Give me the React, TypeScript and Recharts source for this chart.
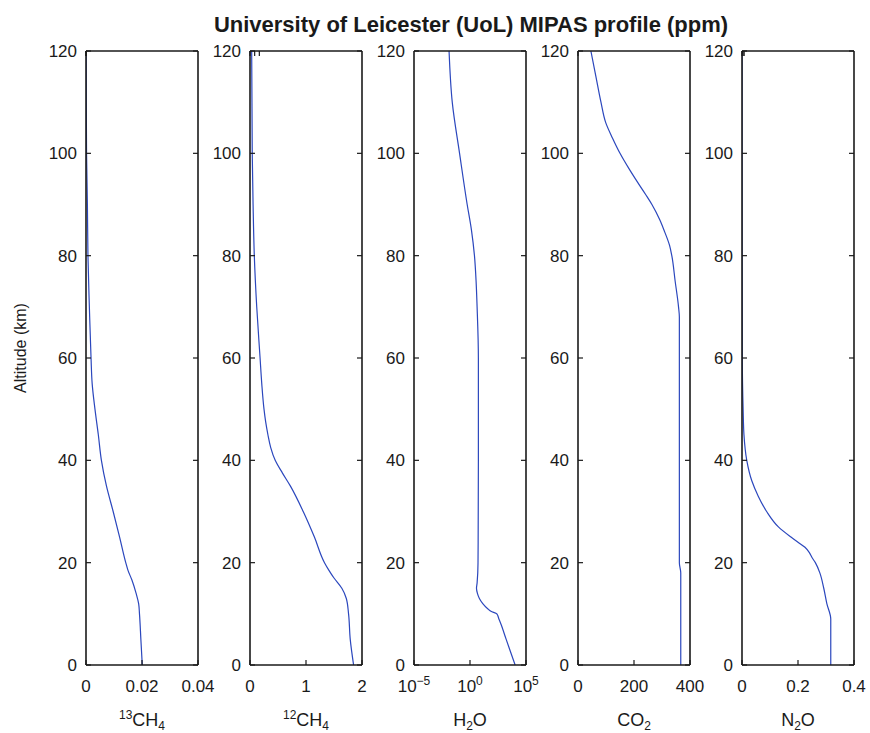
import React from 'react';
import { LineChart, Line, XAxis, YAxis } from 'recharts';

const ALT_TICKS = [0, 20, 40, 60, 80, 100, 120];

// 13CH4 (ppm)
const ch4c13Alt = [0, 5, 10, 12, 14, 16.6, 18.5, 20, 25, 30, 35, 40, 45, 50, 55, 60, 70, 80, 90, 100, 110, 120];
const ch4c13Ppm = [0.0201, 0.0196, 0.0191, 0.0188, 0.0179, 0.0164, 0.015, 0.0142, 0.012, 0.0097, 0.0073, 0.0055, 0.0044, 0.0032, 0.0022, 0.0018, 0.0012, 0.0007, 0.0005, 0.0002, 0.0001, 0.00005];

// 12CH4 (ppm)
const ch4c12Alt = [0, 5, 10, 13, 15, 17, 18.5, 20, 25, 30, 35, 37.5, 40, 42.5, 45, 47.5, 50, 55, 60, 70, 80, 90, 100, 110, 120];
const ch4c12Ppm = [1.85, 1.79, 1.76, 1.72, 1.64, 1.5, 1.41, 1.33, 1.15, 0.95, 0.72, 0.58, 0.45, 0.37, 0.32, 0.28, 0.25, 0.21, 0.18, 0.12, 0.077, 0.055, 0.04, 0.035, 0.03];

// H2O (ppm, log axis)
const h2oAlt = [0, 5, 8, 9, 10, 10.5, 11, 12, 13, 14, 15, 16, 20, 40, 60, 70, 75, 80, 85, 90, 100, 110, 120];
const h2oPpm = [1.07e4, 1.7e3, 575, 380, 250, 74, 38, 13.8, 6.9, 4.6, 3.8, 4.3, 5.2, 5.6, 5.6, 4.3, 3.5, 2.5, 1.35, 0.56, 0.117, 0.026, 0.0135];

// CO2 (ppm)
const co2Alt = [0, 18, 20, 68, 70, 75, 80, 82, 85, 87, 90, 92, 95, 97, 100, 103, 106, 110, 115, 120];
const co2Ppm = [367, 367, 362, 362, 359, 347, 335, 327, 307, 292, 264, 241, 205, 182, 150, 123, 99, 82, 64, 46];

// N2O (ppm)
const n2oAlt = [0, 9, 12, 15, 18, 20, 21, 22, 23, 24, 25, 27, 30, 33, 36, 40, 45, 50, 60, 80, 100, 120];
const n2oPpm = [0.317, 0.317, 0.303, 0.292, 0.278, 0.262, 0.25, 0.24, 0.225, 0.2, 0.175, 0.13, 0.088, 0.058, 0.035, 0.017, 0.007, 0.004, 0.001, 0.0003, 0.0001, 0.00005];

const FONT = '"Liberation Sans", Arial, Helvetica, sans-serif';
const INK = '#1a1a1a';
const BLUE = '#2b47bd';
const TICK_LEN = 5;

interface PanelDef {
  alt: number[];
  ppm: number[];
  domain: [number, number];
  ticks: number[];
  log?: boolean;
}

const panels: PanelDef[] = [
  { alt: ch4c13Alt, ppm: ch4c13Ppm, domain: [0, 0.04], ticks: [0, 0.02, 0.04] },
  { alt: ch4c12Alt, ppm: ch4c12Ppm, domain: [0, 2], ticks: [0, 1, 2] },
  { alt: h2oAlt, ppm: h2oPpm, domain: [1e-5, 1e5], ticks: [1e-5, 1, 1e5], log: true },
  { alt: co2Alt, ppm: co2Ppm, domain: [0, 400], ticks: [0, 200, 400] },
  { alt: n2oAlt, ppm: n2oPpm, domain: [0, 0.4], ticks: [0, 0.2, 0.4] },
];

const BOTTOM_MARGIN = 15;
const LEFT_MARGIN = 9;

// bottom tick: inward tick mark + label (plain or 10^n)
function BottomTick(props: any) {
  const { x, y, payload, log } = props;
  const axisY = y - BOTTOM_MARGIN;
  let label: React.ReactNode = String(payload.value);
  if (log) {
    const exp = Math.round(Math.log10(payload.value));
    label = (
      <>
        <tspan>10</tspan>
        <tspan dy={-7} fontSize={12}>{exp < 0 ? `\u2212${-exp}` : exp}</tspan>
      </>
    );
  }
  return (
    <g>
      <line x1={x} x2={x} y1={axisY} y2={axisY - TICK_LEN} stroke={INK} strokeWidth={1.2} />
      <text x={x} y={y} dy="0.71em" textAnchor="middle" fontSize={17} fill={INK} fontFamily={FONT}>
        {label}
      </text>
    </g>
  );
}

function TopTick(props: any) {
  const { x, y } = props;
  return <line x1={x} x2={x} y1={y} y2={y + TICK_LEN} stroke={INK} strokeWidth={1.2} />;
}

function LeftTick(props: any) {
  const { x, y, payload } = props;
  const axisX = x + LEFT_MARGIN;
  return (
    <g>
      <line x1={axisX} x2={axisX + TICK_LEN} y1={y} y2={y} stroke={INK} strokeWidth={1.2} />
      <text x={x} y={y} dy="0.355em" textAnchor="end" fontSize={17} fill={INK} fontFamily={FONT}>
        {payload.value}
      </text>
    </g>
  );
}

function RightTick(props: any) {
  const { x, y } = props;
  return <line x1={x} x2={x - TICK_LEN} y1={y} y2={y} stroke={INK} strokeWidth={1.2} />;
}

function Panel({ def, left }: { def: PanelDef; left: number }) {
  const data = def.alt.map((a, i) => ({ alt: a, ppm: def.ppm[i] }));
  const axisLine = { stroke: INK, strokeWidth: 1.6 };
  const scale = def.log ? 'log' : 'auto';
  return (
    <div style={{ position: 'absolute', left: left - 60, top: 0 }}>
      <LineChart width={200} height={733} data={data} margin={{ top: 50, right: 27, bottom: 38, left: 0 }}>
        <XAxis
          dataKey="ppm"
          type="number"
          scale={scale as any}
          domain={def.domain}
          ticks={def.ticks}
          interval={0}
          height={30}
          tickSize={0}
          tickMargin={BOTTOM_MARGIN}
          axisLine={axisLine}
          tickLine={false}
          tick={<BottomTick log={def.log} />}
          allowDataOverflow
        />
        <XAxis
          xAxisId="top"
          orientation="top"
          type="number"
          scale={scale as any}
          domain={def.domain}
          ticks={def.ticks}
          interval={0}
          height={1}
          tickSize={0}
          tickMargin={0}
          axisLine={axisLine}
          tickLine={false}
          tick={<TopTick />}
          allowDataOverflow
        />
        <YAxis
          type="number"
          domain={[0, 120]}
          ticks={ALT_TICKS}
          interval={0}
          width={60}
          tickSize={0}
          tickMargin={LEFT_MARGIN}
          axisLine={axisLine}
          tickLine={false}
          tick={<LeftTick />}
          allowDataOverflow
        />
        <YAxis
          yAxisId="right"
          orientation="right"
          type="number"
          domain={[0, 120]}
          ticks={ALT_TICKS}
          interval={0}
          width={1}
          tickSize={0}
          tickMargin={0}
          axisLine={axisLine}
          tickLine={false}
          tick={<RightTick />}
          allowDataOverflow
        />
        <Line
          type="monotoneY"
          dataKey="alt"
          stroke={BLUE}
          strokeWidth={1.2}
          dot={false}
          activeDot={false}
          isAnimationActive={false}
        />
      </LineChart>
    </div>
  );
}

export default function App() {
  const lefts = panels.map((_, i) => 86 + i * 164);
  const cx = lefts.map((l) => l + 56);
  const sub = { fontSize: 12 };
  return (
    <div style={{ position: 'relative', width: 870, height: 733, background: '#fff', fontFamily: FONT }}>
      <style>{'body{margin:0}'}</style>
      {panels.map((p, i) => (
        <Panel key={i} def={p} left={lefts[i]} />
      ))}
      <svg width={870} height={733} style={{ position: 'absolute', left: 0, top: 0, pointerEvents: 'none' }}>
        <g fontFamily={FONT} fill={INK}>
          <text x={471} y={31.5} textAnchor="middle" fontSize={22} fontWeight="bold">
            University of Leicester (UoL) MIPAS profile (ppm)
          </text>
          <text x={26} y={348} textAnchor="middle" fontSize={16} transform="rotate(-90, 26, 348)">
            Altitude (km)
          </text>
          <text x={cx[0]} y={726} textAnchor="middle" fontSize={18}>
            <tspan dy={-7} {...sub}>13</tspan>
            <tspan dy={7}>CH</tspan>
            <tspan dy={4} {...sub}>4</tspan>
          </text>
          <text x={cx[1]} y={726} textAnchor="middle" fontSize={18}>
            <tspan dy={-7} {...sub}>12</tspan>
            <tspan dy={7}>CH</tspan>
            <tspan dy={4} {...sub}>4</tspan>
          </text>
          <text x={cx[2]} y={726} textAnchor="middle" fontSize={18}>
            <tspan>H</tspan>
            <tspan dy={4} {...sub}>2</tspan>
            <tspan dy={-4}>O</tspan>
          </text>
          <text x={cx[3]} y={726} textAnchor="middle" fontSize={18}>
            <tspan>CO</tspan>
            <tspan dy={4} {...sub}>2</tspan>
          </text>
          <text x={cx[4]} y={726} textAnchor="middle" fontSize={18}>
            <tspan>N</tspan>
            <tspan dy={4} {...sub}>2</tspan>
            <tspan dy={-4}>O</tspan>
          </text>
        </g>
      </svg>
    </div>
  );
}
